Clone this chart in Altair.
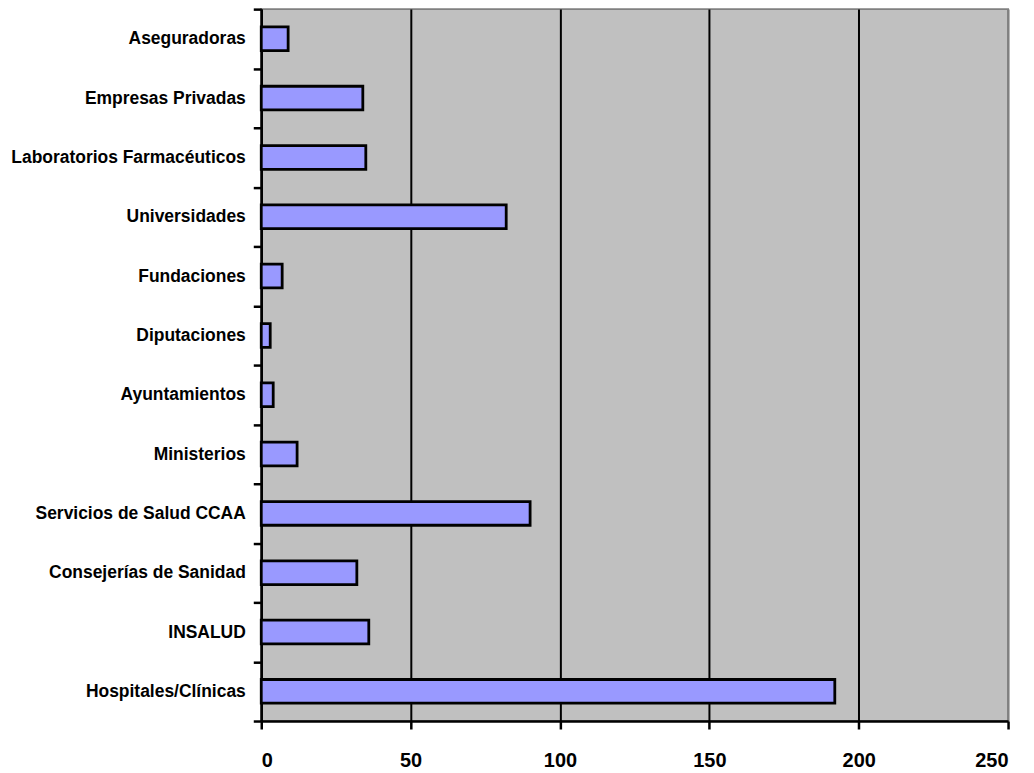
import altair as alt
import pandas as pd

categories = [
    "Aseguradoras",
    "Empresas Privadas",
    "Laboratorios Farmacéuticos",
    "Universidades",
    "Fundaciones",
    "Diputaciones",
    "Ayuntamientos",
    "Ministerios",
    "Servicios de Salud CCAA",
    "Consejerías de Sanidad",
    "INSALUD",
    "Hospitales/Clínicas",
]
values = [9, 34, 35, 82, 7, 3, 4, 12, 90, 32, 36, 192]
x_ticks = [0, 50, 100, 150, 200, 250]

df = pd.DataFrame({"categoria": categories, "valor": values})

FONT = "Liberation Sans, Arial, Helvetica, sans-serif"

chart = (
    alt.Chart(df)
    .mark_bar(color="#9999FF", stroke="black", strokeWidth=2.8, height={"band": 0.40})
    .encode(
        x=alt.X(
            "valor:Q",
            scale=alt.Scale(domain=[0, 250], nice=False, zero=True),
            axis=alt.Axis(
                values=x_ticks,
                title=None,
                grid=True,
                gridColor=alt.condition("datum.value == 250", alt.value("#808080"), alt.value("black")),
                gridWidth=2,
                domainColor="black",
                domainWidth=2.5,
                tickColor="black",
                tickWidth=2.5,
                tickSize=8,
                labelFont=FONT,
                labelFontSize=20,
                labelFontWeight="bold",
                labelColor="black",
                labelPadding=22,
            ),
        ),
        y=alt.Y(
            "categoria:N",
            sort=None,
            scale=alt.Scale(paddingInner=0, paddingOuter=0),
            axis=alt.Axis(
                title=None,
                tickBand="extent",
                domainColor="black",
                domainWidth=2.5,
                tickColor="black",
                tickWidth=2.5,
                tickSize=8,
                labelFont=FONT,
                labelFontSize=17.5,
                labelFontWeight="bold",
                labelColor="black",
                labelPadding=8,
                labelLimit=400,
            ),
        ),
    )
    .properties(
        width=749,
        height=714,
        autosize=alt.AutoSizeParams(type="none"),
        padding={"left": 254, "top": 0, "right": 18, "bottom": 50},
        background="white",
    )
    .configure_view(fill="#C0C0C0", stroke="#808080", strokeWidth=2)
)

chart.save("out.html", embed_options={"renderer": "svg", "actions": False})
